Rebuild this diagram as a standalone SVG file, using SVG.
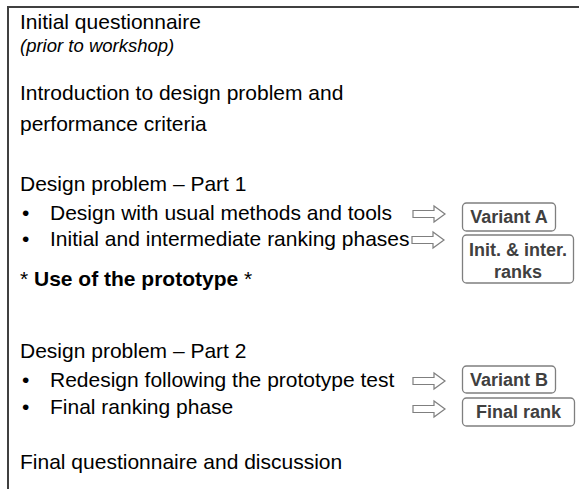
<svg xmlns="http://www.w3.org/2000/svg" width="579" height="489" viewBox="0 0 579 489">
<style>
.t{font-family:"Liberation Sans",Arial,sans-serif;font-size:21px;fill:#000}
.i{font-family:"Liberation Sans",Arial,sans-serif;font-size:18.5px;font-style:italic;fill:#000}
.b{font-weight:bold}
.bx{fill:#fff;stroke:#7f7f7f;stroke-width:1.3}
.bt{font-family:"Liberation Sans",Arial,sans-serif;font-size:18px;font-weight:bold;fill:#404040;text-anchor:middle}
.ar{fill:#fff;stroke:#7f7f7f;stroke-width:1.2}
.fr{fill:none;stroke:#404040;stroke-width:2}
</style>
<defs>
<path id="arrow" d="M0,-3.5 H21 V-8 L32,0 L21,8 V3.5 H0 Z"/>
</defs>
<rect width="579" height="489" fill="#fff"/>
<g id="frame">
<path class="fr" d="M579,7 H8 V489"/>
</g>
<g id="text">
<text class="t" x="20" y="29">Initial questionnaire</text>
<text class="i" x="20" y="52">(prior to workshop)</text>
<text class="t" x="20" y="100">Introduction to design problem and</text>
<text class="t" x="20" y="131">performance criteria</text>
<text class="t" x="20" y="191">Design problem – Part 1</text>
<text class="t" x="22" y="220">•</text>
<text class="t" x="50" y="220">Design with usual methods and tools</text>
<text class="t" x="22" y="246">•</text>
<text class="t" x="50" y="246">Initial and intermediate ranking phases</text>
<text class="t" x="20" y="286">* <tspan class="b">Use of the prototype</tspan> *</text>
<text class="t" x="20" y="358">Design problem – Part 2</text>
<text class="t" x="22" y="387">•</text>
<text class="t" x="50" y="387">Redesign following the prototype test</text>
<text class="t" x="22" y="414">•</text>
<text class="t" x="50" y="414">Final ranking phase</text>
<text class="t" x="20" y="469">Final questionnaire and discussion</text>
</g>
<g id="connectors">
<use href="#arrow" class="ar" transform="translate(413,214)"/>
<use href="#arrow" class="ar" transform="translate(412,240)"/>
<use href="#arrow" class="ar" transform="translate(413,381)"/>
<use href="#arrow" class="ar" transform="translate(413,409)"/>
</g>
<g id="variantA">
<rect class="bx" x="462.5" y="203" width="93" height="28" rx="4"/>
<text class="bt" x="509" y="223">Variant A</text>
</g>
<g id="ranks">
<rect class="bx" x="462.5" y="235" width="111" height="48" rx="4"/>
<text class="bt" x="518" y="256">Init. &amp; inter.</text>
<text class="bt" x="518" y="278">ranks</text>
</g>
<g id="variantB">
<rect class="bx" x="462.5" y="366" width="93" height="27" rx="4"/>
<text class="bt" x="509" y="386">Variant B</text>
</g>
<g id="finalRank">
<rect class="bx" x="462.5" y="398" width="112" height="28" rx="4"/>
<text class="bt" x="518.5" y="418">Final rank</text>
</g>
</svg>
